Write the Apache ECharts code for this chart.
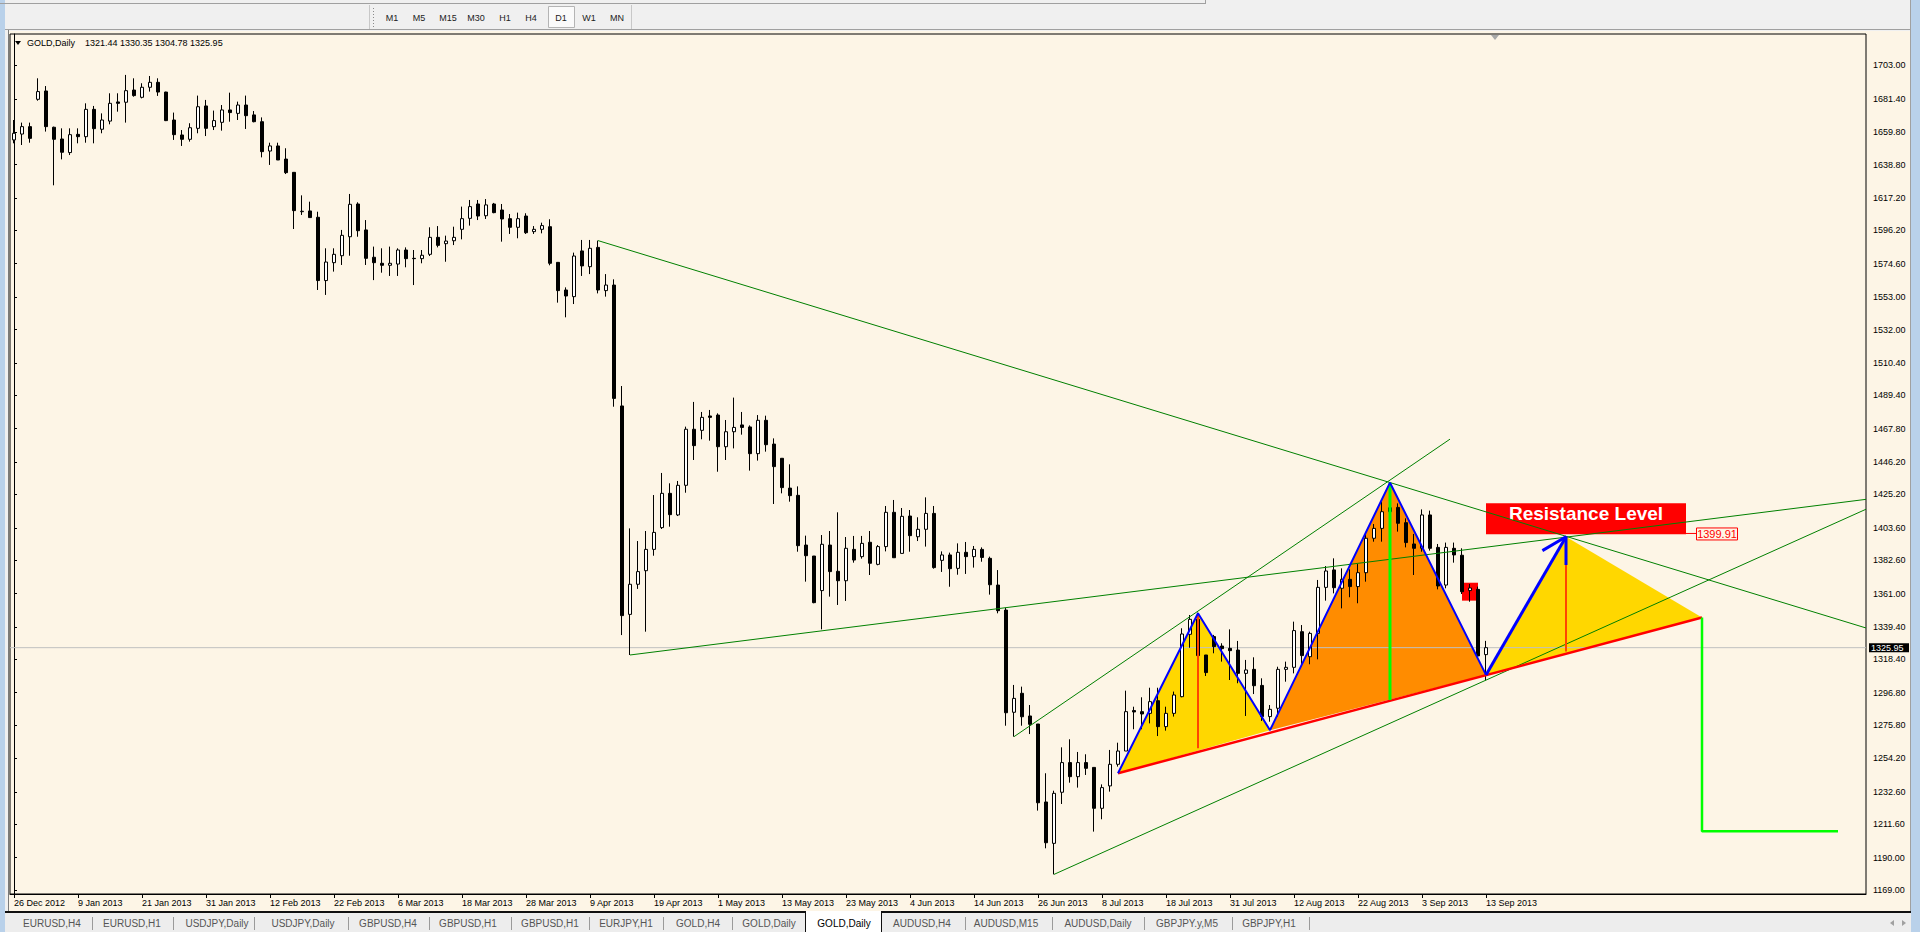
<!DOCTYPE html>
<html><head><meta charset="utf-8">
<script src="https://cdn.jsdelivr.net/npm/echarts@6/dist/echarts.min.js"></script>
<style>html,body{margin:0;padding:0;background:#F0F0F0;overflow:hidden}#c{width:1920px;height:932px}</style>
</head><body><div id="c"></div>
<script>
// ---------- data ----------
const dateLabels = ['26 Dec 2012','9 Jan 2013','21 Jan 2013','31 Jan 2013','12 Feb 2013','22 Feb 2013','6 Mar 2013','18 Mar 2013','28 Mar 2013','9 Apr 2013','19 Apr 2013','1 May 2013','13 May 2013','23 May 2013','4 Jun 2013','14 Jun 2013','26 Jun 2013','8 Jul 2013','18 Jul 2013','31 Jul 2013','12 Aug 2013','22 Aug 2013','3 Sep 2013','13 Sep 2013'];
const labelEvery = 8;
const slotCount = 232;
const yTickLabels = [1169.00,1190.00,1211.60,1232.60,1254.20,1275.80,1296.80,1318.40,1339.40,1361.00,1382.60,1403.60,1425.20,1446.20,1467.80,1489.40,1510.40,1532.00,1553.00,1574.60,1596.20,1617.20,1638.80,1659.80,1681.40,1703.00];
const priceMin = 1166.4, priceMax = 1723.4;

const open  = [1654.8,1658.6,1663.4,1681.1,1686.5,1663.0,1655.4,1646.6,1658.4,1656.9,1674.6,1661.7,1667.0,1679.4,1679.2,1687.1,1682.4,1688.9,1692.1,1685.8,1667.7,1658.0,1655.2,1662.3,1676.8,1663.4,1666.2,1674.2,1672.0,1677.4,1671.0,1666.6,1647.6,1650.9,1642.4,1633.8,1608.3,1608.8,1604.7,1563.7,1575.3,1579.8,1592.1,1613.3,1596.5,1578.8,1574.9,1573.6,1574.4,1583.5,1578.1,1577.9,1580.7,1591.7,1587.6,1589.5,1596.9,1604.0,1613.3,1605.7,1613.3,1609.4,1603.8,1598.2,1605.5,1595.4,1596.9,1598.6,1575.5,1557.6,1553.3,1582.9,1572.7,1585.2,1557.2,1560.8,1482.5,1347.5,1367.0,1375.8,1389.6,1403.7,1425.9,1411.9,1431.1,1467.4,1466.7,1476.0,1476.6,1456.1,1465.8,1470.2,1468.9,1451.6,1473.2,1457.8,1448.6,1429.3,1424.6,1392.4,1385.3,1362.9,1392.4,1375.4,1369.3,1389.6,1384.9,1394.2,1379.9,1391.4,1413.6,1387.0,1411.2,1397.8,1402.6,1412.9,1382.5,1386.0,1377.3,1387.7,1384.9,1389.6,1383.8,1366.5,1350.3,1284.1,1296.4,1281.7,1276.5,1226.0,1199.2,1232.3,1251.5,1242.4,1251.5,1248.4,1221.9,1236.4,1250.4,1259.0,1285.2,1284.5,1283.4,1291.6,1274.8,1283.4,1294.2,1334.6,1344.3,1321.2,1333.1,1327.0,1325.5,1324.4,1309.3,1311.9,1301.5,1281.3,1286.7,1311.9,1313.2,1336.3,1320.1,1335.2,1365.0,1376.3,1364.4,1370.2,1365.5,1374.5,1396.8,1403.2,1414.0,1416.8,1406.9,1393.1,1390.3,1411.9,1390.9,1366.5,1390.3,1385.8,1362.9,1363.7,1321.44];
const high  = [1667.7,1666.0,1666.0,1694.7,1689.7,1663.4,1662.3,1662.3,1662.3,1678.5,1676.8,1672.0,1685.0,1685.0,1696.9,1694.7,1691.5,1696.2,1694.7,1686.0,1672.5,1661.2,1665.6,1683.5,1680.7,1673.8,1677.4,1685.4,1679.6,1683.5,1673.5,1669.4,1653.0,1653.0,1649.4,1633.8,1618.9,1614.8,1608.3,1584.6,1584.6,1596.5,1619.8,1614.4,1602.9,1585.7,1584.6,1585.7,1584.6,1585.2,1583.5,1583.5,1598.2,1599.0,1592.8,1598.6,1611.6,1615.9,1615.9,1616.5,1614.0,1613.3,1606.8,1607.7,1607.3,1599.0,1601.2,1603.4,1575.5,1559.3,1581.8,1590.0,1590.0,1589.6,1567.9,1564.5,1495.4,1403.2,1395.0,1401.5,1424.8,1439.1,1432.4,1433.9,1469.1,1485.1,1478.6,1479.9,1477.7,1473.4,1487.9,1478.6,1469.9,1476.6,1476.2,1461.5,1448.6,1444.7,1430.4,1398.5,1385.3,1398.9,1401.5,1413.6,1397.6,1398.3,1398.3,1401.5,1392.4,1417.7,1421.6,1416.4,1415.1,1410.4,1423.3,1417.7,1388.3,1387.5,1393.5,1394.4,1391.8,1390.9,1384.9,1376.2,1351.8,1301.8,1300.7,1288.8,1276.5,1244.6,1233.3,1261.4,1266.6,1258.4,1256.9,1248.4,1237.4,1259.7,1264.4,1298.1,1287.7,1293.8,1300.0,1300.0,1287.7,1297.5,1338.5,1347.1,1348.6,1321.2,1334.2,1328.8,1337.8,1330.3,1318.0,1319.7,1306.1,1288.8,1313.6,1316.9,1342.8,1340.6,1336.3,1369.8,1378.8,1383.8,1377.3,1376.7,1380.1,1399.6,1406.0,1420.5,1432.8,1419.4,1409.7,1399.6,1415.5,1414.7,1393.1,1394.0,1394.0,1390.3,1367.2,1365.5,1330.35];
const low   = [1652.6,1651.5,1653.0,1680.2,1660.2,1625.4,1642.2,1645.0,1652.6,1653.0,1652.6,1659.1,1664.9,1673.1,1666.0,1682.8,1681.7,1686.1,1683.3,1667.0,1654.8,1650.9,1653.7,1659.1,1657.3,1661.2,1660.8,1666.6,1667.7,1661.9,1666.2,1643.5,1638.6,1641.8,1632.7,1597.1,1606.2,1604.5,1557.6,1554.4,1569.5,1573.8,1579.8,1592.1,1573.8,1564.0,1568.8,1566.7,1566.7,1572.3,1560.8,1574.9,1579.6,1585.2,1575.9,1586.7,1590.4,1599.3,1602.9,1603.6,1607.3,1588.9,1593.9,1591.1,1593.9,1593.9,1594.3,1573.6,1549.4,1539.9,1548.5,1566.7,1567.9,1555.4,1553.3,1482.0,1334.1,1321.2,1364.0,1336.3,1385.5,1402.8,1404.3,1411.2,1426.3,1447.5,1460.9,1460.0,1439.9,1447.5,1455.0,1463.9,1440.6,1447.1,1452.9,1419.0,1425.9,1420.5,1388.1,1368.7,1354.7,1337.8,1359.0,1353.6,1356.2,1381.0,1383.6,1373.0,1379.3,1388.3,1384.2,1387.0,1388.1,1395.0,1391.4,1377.1,1375.0,1365.4,1373.2,1373.7,1377.8,1381.6,1360.3,1348.2,1275.4,1268.3,1275.4,1270.0,1220.4,1196.0,1179.1,1224.7,1238.5,1235.3,1243.5,1206.8,1214.8,1232.7,1248.9,1259.0,1273.1,1273.1,1276.9,1268.7,1272.2,1281.3,1293.8,1325.9,1312.1,1307.6,1322.3,1316.9,1305.0,1302.9,1281.7,1295.9,1278.5,1278.0,1281.3,1303.9,1309.3,1315.4,1315.2,1318.4,1356.4,1361.1,1351.4,1358.6,1354.7,1368.7,1394.6,1394.6,1411.9,1401.1,1390.9,1373.0,1388.1,1388.8,1363.7,1364.4,1381.0,1360.7,1355.7,1320.2,1304.78];
const close = [1659.1,1663.4,1655.8,1686.1,1663.4,1655.2,1646.8,1658.2,1656.9,1674.6,1662.1,1667.7,1678.5,1678.5,1686.7,1683.5,1688.9,1692.1,1685.8,1667.3,1658.2,1655.2,1662.7,1676.3,1662.3,1667.3,1674.2,1672.5,1677.4,1670.5,1666.6,1647.2,1650.9,1641.8,1633.6,1609.0,1608.6,1604.5,1563.7,1575.7,1580.7,1593.0,1613.1,1596.0,1578.1,1575.3,1573.6,1574.9,1583.5,1577.9,1577.9,1580.1,1591.7,1586.5,1589.3,1591.7,1603.8,1611.6,1605.5,1612.7,1607.7,1603.6,1598.2,1603.8,1594.7,1596.9,1599.3,1574.9,1557.2,1553.7,1579.6,1573.2,1584.6,1557.6,1560.8,1487.4,1346.7,1367.0,1375.2,1389.6,1400.6,1425.9,1412.1,1431.1,1467.4,1456.8,1475.1,1475.1,1456.1,1465.8,1468.6,1468.6,1451.6,1473.2,1457.4,1443.2,1429.6,1424.4,1392.0,1385.5,1355.1,1392.9,1375.2,1369.3,1390.3,1382.7,1393.5,1380.6,1391.4,1413.6,1384.2,1411.0,1398.5,1402.6,1412.9,1377.8,1386.0,1377.1,1387.7,1384.9,1389.6,1384.4,1366.7,1349.9,1283.8,1293.1,1281.2,1276.3,1225.5,1199.6,1231.6,1251.5,1242.4,1251.5,1247.8,1221.9,1235.3,1250.4,1259.0,1284.5,1284.3,1283.0,1291.0,1274.8,1283.4,1295.3,1334.8,1344.3,1320.8,1309.8,1326.6,1325.3,1324.0,1309.3,1311.5,1301.3,1281.3,1286.0,1311.9,1313.2,1337.0,1320.8,1335.2,1365.0,1375.6,1364.8,1370.2,1365.5,1374.5,1396.8,1403.2,1414.0,1416.6,1406.5,1394.0,1390.3,1411.9,1390.3,1365.9,1390.9,1386.0,1362.2,1364.6,1320.6,1325.95];

const bidPrice = 1325.95;
const resistancePrice = 1399.91;
// drawings: [bar index, price]
const trendFromAprilHigh = [[73,1589.6],[231.5,1338.7]];
const trendFromAprilLow  = [[77,1321.2],[231.5,1422.0]];
const trendFromJuneLow   = [[130,1179.1],[231.5,1415.6]];
const channelTop         = [[125,1268.3],[179.5,1461.0]];
const neckline           = [[138,1244.6],[211,1345.5]];
const zigzag             = [[138,1244.6],[148,1348.2],[157,1272.5],[172,1432.8],[184,1308.3]];
const arrowShaft         = [[184,1308.3],[194,1397.8]];
const arrowHead          = [[191.05,1388.8],[194,1397.8],[194,1379.5]];
const leftShoulder       = [[138,1244.6],[148,1348.2],[157,1272.5]];
const headTriangle       = [[157,1272.5],[172,1432.8],[184,1308.3]];
const rightShoulder      = [[184,1308.3],[194,1397.8],[211,1345.5]];
const leftHeight         = [[148,1348.2],[148,1260.8]];
const headHeight         = [[172,1432.8],[172,1292.1]];
const rightHeight        = [[194,1397.8],[194,1323.5]];
const targetPath         = [[211,1345.5],[211,1207.0],[228,1207.0]];
const resistanceBox      = [[184,1419.4],[209,1399.4]];
const markBox            = [[181,1368.0],[183,1356.4]];
const priceTagAnchor     = [209, resistancePrice];

const tabNames = ['EURUSD,H4','EURUSD,H1','USDJPY,Daily','USDJPY,Daily','GBPUSD,H4','GBPUSD,H1','GBPUSD,H1','EURJPY,H1','GOLD,H4','GOLD,Daily','GOLD,Daily','AUDUSD,H4','AUDUSD,M15','AUDUSD,Daily','GBPJPY.y,M5','GBPJPY,H1'];
const activeTab = 10;
const timeframes = ['M1','M5','M15','M30','H1','H4','D1','W1','MN'];
const headerText = 'GOLD,Daily';
const headerValues = '1321.44 1330.35 1304.78 1325.95';

// ---------- chart ----------
const FONT = '"Liberation Sans", Arial, sans-serif';
const chart = echarts.init(document.getElementById('c'), null, {renderer: 'svg', width: 1920, height: 932});
const categories = Array.from({length: slotCount}, (_, i) => String(i));
const isLabelSlot = (i) => i % labelEvery === 0 && i / labelEvery < dateLabels.length;
const candles = open.map((o, i) => [o, close[i], low[i], high[i]]);

function lineSeries(data, color, width, z) {
  return {type: 'line', xAxisIndex: 1, yAxisIndex: 0, data, symbol: 'none', silent: true, z: z || 3,
    lineStyle: {color, width}, animation: false, emphasis: {disabled: true}};
}

const tabCenters = [52,132,217,303,388,468,550,626,698,769,844,922,1006,1098,1187,1269];
const tabSeps = [92,173,254,348,429,511,589,663,732,965,1052,1144,1232,1309];
const tfCenters = [392,419,448,476,505,531,561,589,617];

const graphics = [];
graphics.push({type:'rect', z:-100, silent:true, shape:{x:9, y:31, width:1902, height:880}, style:{fill:'#FDF5E6'}});
graphics.push({type:'rect', z:50, silent:true, shape:{x:0, y:0, width:5, height:932}, style:{fill:'#B9D1EA'}});
graphics.push({type:'rect', z:50, silent:true, shape:{x:1911, y:0, width:9, height:932}, style:{fill:'#B9D1EA'}});
graphics.push({type:'line', z:50, silent:true, shape:{x1:1910.5, y1:0, x2:1910.5, y2:932}, style:{stroke:'#A0A0A0', lineWidth:1}});
graphics.push({type:'line', z:50, silent:true, shape:{x1:8.5, y1:30, x2:8.5, y2:911}, style:{stroke:'#7A7A7A', lineWidth:1}});
graphics.push({type:'line', z:50, silent:true, shape:{x1:0, y1:3.5, x2:1205, y2:3.5}, style:{stroke:'#A0A0A0', lineWidth:1}});
graphics.push({type:'line', z:50, silent:true, shape:{x1:1205.5, y1:0, x2:1205.5, y2:4}, style:{stroke:'#A0A0A0', lineWidth:1}});
graphics.push({type:'line', z:50, silent:true, shape:{x1:5, y1:29.5, x2:1911, y2:29.5}, style:{stroke:'#A0A0A0', lineWidth:1}});
graphics.push({type:'line', z:50, silent:true, shape:{x1:369.5, y1:5, x2:369.5, y2:29}, style:{stroke:'#C8C8C8', lineWidth:1}});
graphics.push({type:'line', z:50, silent:true, shape:{x1:373.5, y1:8, x2:373.5, y2:27}, style:{stroke:'#8A8A8A', lineWidth:1, lineDash:[1,2]}});
graphics.push({type:'line', z:50, silent:true, shape:{x1:631.5, y1:5, x2:631.5, y2:29}, style:{stroke:'#C8C8C8', lineWidth:1}});
graphics.push({type:'rect', z:50, silent:true, shape:{x:548.5, y:6.5, width:26, height:21}, style:{fill:'#FAFAFA', stroke:'#B4B4B4', lineWidth:1}});
timeframes.forEach((t, i) => graphics.push({type:'text', z:51, silent:true, x:tfCenters[i], y:18,
  style:{text:t, fill:'#222', font:'9px ' + FONT, align:'center', verticalAlign:'middle'}}));
graphics.push({type:'polygon', z:50, silent:true, shape:{points:[[15,41],[21,41],[18,45]]}, style:{fill:'#000'}});
graphics.push({type:'text', z:50, silent:true, x:27, y:43, style:{text:headerText, fill:'#000', font:'9px ' + FONT, verticalAlign:'middle'}});
graphics.push({type:'text', z:50, silent:true, x:85, y:43, style:{text:headerValues, fill:'#000', font:'9px ' + FONT, verticalAlign:'middle'}});
graphics.push({type:'polygon', z:50, silent:true, shape:{points:[[1491,35],[1499,35],[1495,40]]}, style:{fill:'#A8A8A8'}});
graphics.push({type:'rect', z:50, silent:true, shape:{x:5, y:911, width:1906, height:21}, style:{fill:'#EDEDED'}});
graphics.push({type:'rect', z:51, silent:true, shape:{x:5, y:911, width:1906, height:2}, style:{fill:'#101010'}});
graphics.push({type:'rect', z:52, silent:true, shape:{x:805, y:911, width:77, height:21}, style:{fill:'#FFFFFF'}});
graphics.push({type:'line', z:53, silent:true, shape:{x1:805.5, y1:911, x2:805.5, y2:932}, style:{stroke:'#101010', lineWidth:1}});
graphics.push({type:'line', z:53, silent:true, shape:{x1:881.5, y1:911, x2:881.5, y2:932}, style:{stroke:'#101010', lineWidth:1}});
tabSeps.forEach(x => graphics.push({type:'line', z:51, silent:true, shape:{x1:x + 0.5, y1:917, x2:x + 0.5, y2:930}, style:{stroke:'#9A9A9A', lineWidth:1}}));
tabNames.forEach((t, i) => graphics.push({type:'text', z:54, silent:true, x:tabCenters[i], y:923,
  style:{text:t, fill: i === activeTab ? '#000' : '#555', font:'10px ' + FONT, align:'center', verticalAlign:'middle'}}));
graphics.push({type:'polygon', z:54, silent:true, shape:{points:[[1894,920],[1894,926],[1890,923]]}, style:{fill:'#A0A0A0'}});
graphics.push({type:'polygon', z:54, silent:true, shape:{points:[[1902,920],[1902,926],[1906,923]]}, style:{fill:'#A0A0A0'}});

const triangles = [leftShoulder, headTriangle, rightShoulder];
const triangleColors = ['#FFD700', '#FF8C00', '#FFD700'];

const option = {
  animation: false,
  backgroundColor: '#F0F0F0',
  grid: {left: 10, right: 54, top: 34, bottom: 38, show: true, borderColor: '#000', borderWidth: 1, backgroundColor: 'transparent', containLabel: false, outerBoundsMode: 'none'},
  xAxis: [
    {type: 'category', data: categories, boundaryGap: true,
     axisLine: {show: true, lineStyle: {color: '#000', width: 1}},
     axisTick: {show: true, alignWithLabel: true, interval: (i) => isLabelSlot(i), length: 4, lineStyle: {color: '#000'}},
     axisLabel: {show: true, interval: (i) => isLabelSlot(i), formatter: (v) => dateLabels[Number(v) / labelEvery] || '',
       align: 'left', margin: 4, color: '#000', fontSize: 9, fontFamily: FONT},
     splitLine: {show: false}},
    {type: 'value', min: -0.5, max: slotCount - 0.5, show: false}
  ],
  yAxis: [{type: 'value', position: 'right', min: priceMin, max: priceMax,
    axisLine: {show: true, lineStyle: {color: '#000', width: 1}},
    axisTick: {show: true, customValues: yTickLabels, length: 3, inside: false, lineStyle: {color: '#000'}},
    axisLabel: {show: true, customValues: yTickLabels, formatter: (v) => Number(v).toFixed(2), margin: 7, color: '#000', fontSize: 9, fontFamily: FONT},
    splitLine: {show: false}}],
  graphic: {elements: graphics},
  series: [
    lineSeries([[-0.5, bidPrice], [slotCount - 0.5, bidPrice]], '#C0C0C0', 1, 1),
    {type: 'custom', xAxisIndex: 1, yAxisIndex: 0, z: 1, silent: true,
     data: triangles.map(t => t[0]),
     renderItem: (params, api) => ({type: 'polygon',
       shape: {points: triangles[params.dataIndex].map(p => api.coord(p))},
       style: {fill: triangleColors[params.dataIndex]}})},
    {type: 'custom', xAxisIndex: 1, yAxisIndex: 0, z: 1, silent: true,
     data: [markBox[0]],
     renderItem: (params, api) => {
       const a = api.coord(markBox[0]), b = api.coord(markBox[1]);
       return {type: 'rect', shape: {x: a[0], y: a[1], width: b[0] - a[0], height: b[1] - a[1]}, style: {fill: '#FF0000'}};
     }},
    {type: 'custom', xAxisIndex: 1, yAxisIndex: 0, z: 1.5, silent: true,
     data: [resistanceBox[0]],
     renderItem: (params, api) => {
       const a = api.coord(resistanceBox[0]), b = api.coord(resistanceBox[1]);
       return {type: 'group', children: [
         {type: 'rect', shape: {x: a[0], y: a[1], width: b[0] - a[0], height: b[1] - a[1]}, style: {fill: '#FF0000'}},
         {type: 'text', x: (a[0] + b[0]) / 2, y: a[1] + 10,
          style: {text: 'Resistance Level', fill: '#FFFFFF', font: 'bold 19px ' + FONT, align: 'center', verticalAlign: 'middle'}}
       ]};
     }},
    {type: 'candlestick', xAxisIndex: 0, yAxisIndex: 0, z: 2, data: candles, barWidth: 4, silent: true,
     itemStyle: {color: '#FFFFFF', color0: '#000000', borderColor: '#000000', borderColor0: '#000000', borderColorDoji: '#000000', borderWidth: 1},
     emphasis: {disabled: true}},
    lineSeries(trendFromAprilHigh, '#008000', 1),
    lineSeries(trendFromAprilLow, '#008000', 1),
    lineSeries(trendFromJuneLow, '#008000', 1),
    lineSeries(channelTop, '#008000', 1),
    lineSeries(leftHeight, '#FF4500', 2),
    lineSeries(rightHeight, '#FF4500', 2),
    lineSeries(neckline, '#FF0000', 2.5),
    lineSeries(headHeight, '#00FF00', 3),
    lineSeries(zigzag, '#0000FF', 2),
    lineSeries(arrowShaft, '#0000FF', 3),
    lineSeries(arrowHead, '#0000FF', 3),
    lineSeries(targetPath, '#00FF00', 2.5),
    {type: 'custom', xAxisIndex: 1, yAxisIndex: 0, z: 4, silent: true,
     data: [priceTagAnchor],
     renderItem: (params, api) => {
       const a = api.coord(priceTagAnchor);
       return {type: 'group', children: [
         {type: 'line', shape: {x1: a[0], y1: a[1], x2: a[0] + 10, y2: a[1]}, style: {stroke: '#FF0000', lineWidth: 1}},
         {type: 'rect', shape: {x: a[0] + 10.5, y: a[1] - 5.5, width: 41, height: 12}, style: {fill: '#FDF5E6', stroke: '#FF0000', lineWidth: 1}},
         {type: 'text', x: a[0] + 31, y: a[1] + 0.5, style: {text: resistancePrice.toFixed(2), fill: '#FF0000', font: '11px ' + FONT, align: 'center', verticalAlign: 'middle'}}
       ]};
     }},
    {type: 'custom', xAxisIndex: 1, yAxisIndex: 0, z: 5, silent: true, clip: false,
     data: [[slotCount - 0.5, bidPrice]],
     renderItem: (params, api) => {
       const a = api.coord([slotCount - 0.5, bidPrice]);
       return {type: 'group', children: [
         {type: 'rect', shape: {x: a[0] + 3, y: a[1] - 4.5, width: 40, height: 9}, style: {fill: '#000000'}},
         {type: 'text', x: a[0] + 5, y: a[1], style: {text: bidPrice.toFixed(2), fill: '#FFFFFF', font: '9px ' + FONT, verticalAlign: 'middle'}}
       ]};
     }}
  ]
};
chart.setOption(option);
</script>
</body></html>
